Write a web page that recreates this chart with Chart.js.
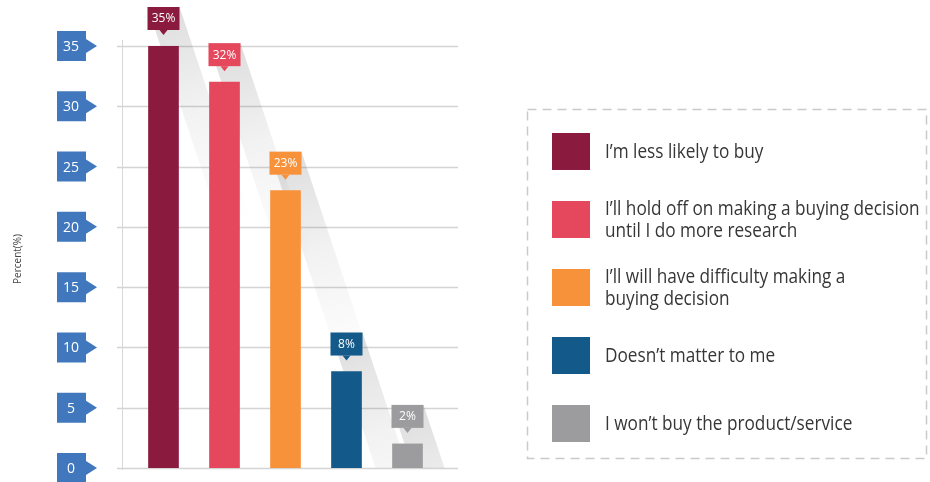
<!DOCTYPE html>
<html>
<head>
<meta charset="utf-8">
<script src="https://cdn.jsdelivr.net/npm/chart.js@4"></script>
<style>
  body { margin: 0; background: #fff; }
  #wrap { position: relative; width: 930px; height: 482px; }
  #grafico { position: absolute; left: 0; top: 0; }
  #legend { position: absolute; left: 552px; top: 117px; font-family: 'Open Sans', sans-serif; color: #363636; }
  .row { display: flex; align-items: center; height: 68px; }
  .sw { width: 38px; height: 37px; flex: none; }
  .txt { margin-left: 15px; font-size: 20px; line-height: 22px; white-space: nowrap;
         transform: scaleX(0.86); transform-origin: left center; }
</style>
</head>
<body>
<div id="wrap">
  <canvas id="grafico" width="930" height="482"></canvas>
  <div id="legend"></div>
</div>
<script>
// answers (one entry per bar, split into legend lines)
const answers = [
  ['I’m less likely to buy'],
  ['I’ll hold off on making a buying decision', 'until I do more research'],
  ['I’ll will have difficulty making a', 'buying decision'],
  ['Doesn’t matter to me'],
  ['I won’t buy the product/service']
];
const percents = [35, 32, 23, 8, 2];
const colors = ['#8a1a3e', '#e5475c', '#f7923b', '#13598a', '#9c9c9f'];
const yTicks = [0, 5, 10, 15, 20, 25, 30, 35];
const yTitle = 'Percent(%)';

// html legend on the right
const legend = document.getElementById('legend');
answers.forEach((lines, i) => {
  const row = document.createElement('div');
  row.className = 'row';
  row.innerHTML = `<div class="sw" style="background:${colors[i]}"></div>` +
                  `<div class="txt">${lines.join('<br>')}</div>`;
  legend.appendChild(row);
});

const extras = {
  id: 'extras',
  beforeDatasetsDraw(chart) {
    const ctx = chart.ctx, y = chart.scales.y, area = chart.chartArea;
    ctx.save();
    // grid lines run a bit past the plot area on both sides
    ctx.strokeStyle = '#d4d4d4';
    ctx.lineWidth = 1.5;
    yTicks.forEach(v => {
      const py = Math.round(y.getPixelForValue(v)) + 0.5;
      ctx.beginPath(); ctx.moveTo(117, py); ctx.lineTo(458, py); ctx.stroke();
    });
    ctx.strokeStyle = '#d8d8d8';
    ctx.lineWidth = 1;
    ctx.beginPath(); ctx.moveTo(122.5, 40); ctx.lineTo(122.5, area.bottom + 2); ctx.stroke();

    // long diagonal shadows behind the bars
    ctx.beginPath(); ctx.rect(0, 0, 470, area.bottom); ctx.clip();
    chart.getDatasetMeta(0).data.forEach(bar => {
      const l = bar.x - bar.width / 2 - 1, r = bar.x + bar.width / 2 + 1;
      const top = bar.y - 39, d = 70;
      const g = ctx.createLinearGradient(r, top, r + d, top + 3 * d);
      g.addColorStop(0, 'rgba(70,70,70,0.18)');
      g.addColorStop(0.45, 'rgba(70,70,70,0.07)');
      g.addColorStop(1, 'rgba(70,70,70,0)');
      ctx.fillStyle = g;
      ctx.beginPath();
      ctx.moveTo(l, top); ctx.lineTo(r, top);
      ctx.lineTo(r + d, top + 3 * d); ctx.lineTo(l + d, top + 3 * d);
      ctx.closePath(); ctx.fill();
    });
    ctx.restore();
  },
  afterDatasetsDraw(chart) {
    const ctx = chart.ctx, y = chart.scales.y;
    ctx.save();
    ctx.textAlign = 'center';
    ctx.textBaseline = 'middle';

    // value callouts above each bar
    chart.getDatasetMeta(0).data.forEach((bar, i) => {
      const l = bar.x - bar.width / 2 - 1, w = bar.width + 2;
      const top = bar.y - 39;
      ctx.fillStyle = colors[i];
      ctx.fillRect(l, top, w, 23);
      ctx.beginPath();
      ctx.moveTo(bar.x - 4, top + 23); ctx.lineTo(bar.x + 4, top + 23); ctx.lineTo(bar.x, top + 28);
      ctx.closePath(); ctx.fill();
      ctx.fillStyle = '#fff';
      ctx.font = '12px "Open Sans"';
      ctx.fillText(percents[i] + '%', bar.x, top + 12);
    });

    // blue arrow tags for the y ticks
    yTicks.forEach(v => {
      const cy = y.getPixelForValue(v);
      ctx.fillStyle = '#4178bd';
      ctx.beginPath();
      ctx.moveTo(57, cy - 15); ctx.lineTo(86, cy - 15); ctx.lineTo(86, cy - 7);
      ctx.lineTo(97, cy); ctx.lineTo(86, cy + 7); ctx.lineTo(86, cy + 15);
      ctx.lineTo(57, cy + 15); ctx.closePath(); ctx.fill();
      ctx.fillStyle = '#fff';
      ctx.font = '14px "Open Sans"';
      ctx.fillText(String(v), 71, cy + 1);
    });

    // axis title
    ctx.translate(18, 259);
    ctx.rotate(-Math.PI / 2);
    ctx.fillStyle = '#444';
    ctx.font = '10px "Open Sans"';
    ctx.fillText(yTitle, 0, 0);
    ctx.restore();

    // dashed frame round the legend
    ctx.save();
    ctx.strokeStyle = '#cacaca';
    ctx.lineWidth = 1.5;
    ctx.setLineDash([9, 6]);
    ctx.strokeRect(527.5, 109.5, 399, 349);
    ctx.restore();
  }
};

new Chart(document.getElementById('grafico'), {
  type: 'bar',
  data: {
    labels: answers.map(a => a.join(' ')),
    datasets: [{
      data: percents,
      backgroundColor: colors,
      borderWidth: 0,
      barThickness: 30
    }]
  },
  options: {
    responsive: false,
    animation: false,
    layout: { padding: { left: 133, right: 492, top: 46, bottom: 14 } },
    plugins: { legend: { display: false }, tooltip: { enabled: false } },
    scales: {
      x: { display: false },
      y: { display: false, min: 0, max: 35 }
    }
  },
  plugins: [extras]
});
</script>
</body>
</html>
